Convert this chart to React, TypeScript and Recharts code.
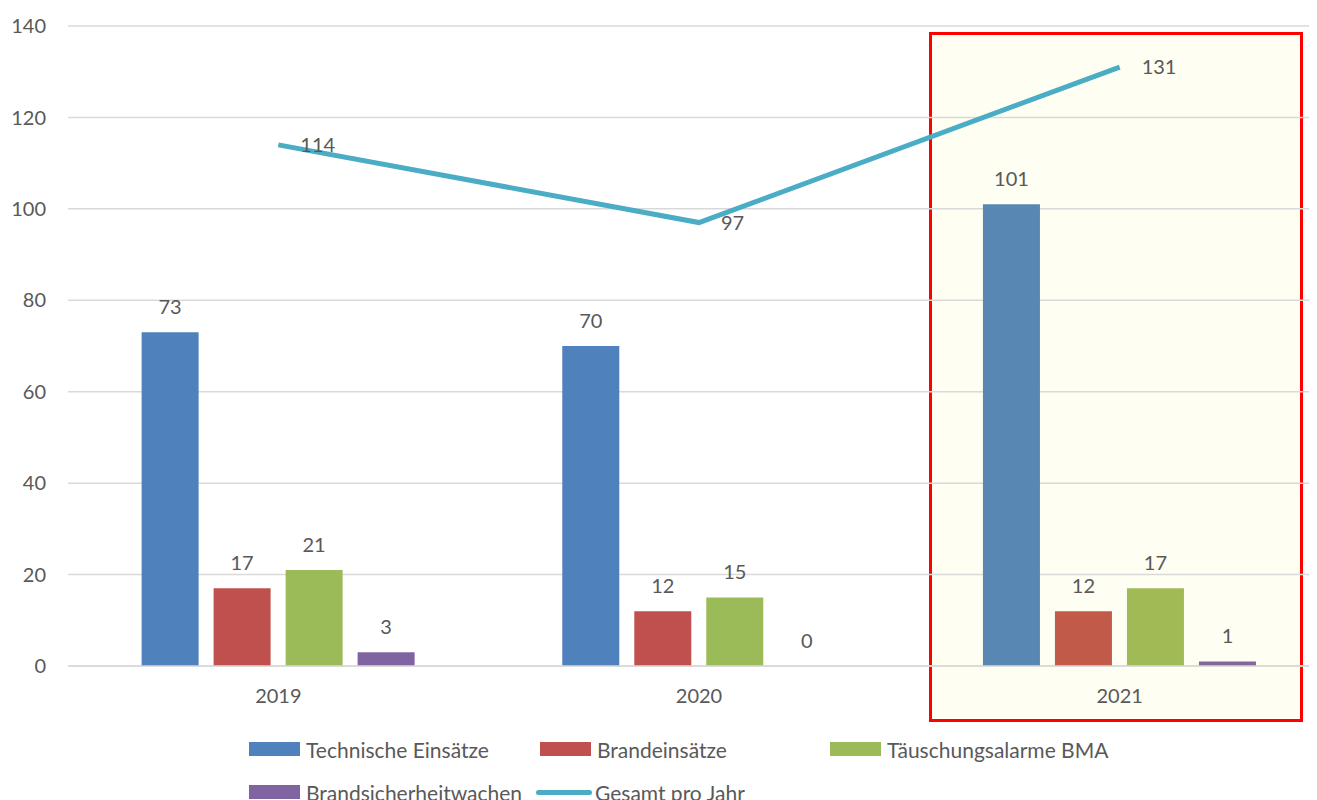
import {
  ComposedChart,
  Bar,
  Line,
  XAxis,
  YAxis,
  CartesianGrid,
  Legend,
  LabelList,
  Cell,
} from 'recharts';

const years = ['2019', '2020', '2021'];
const technische = [73, 70, 101];
const brand = [17, 12, 12];
const taeuschung = [21, 15, 17];
const wachen = [3, 0, 1];
const gesamt = [114, 97, 131];
const yTicks = [0, 20, 40, 60, 80, 100, 120, 140];

const seriesNames = {
  technische: 'Technische Einsätze',
  brand: 'Brandeinsätze',
  taeuschung: 'Täuschungsalarme BMA',
  wachen: 'Brandsicherheitwachen',
  gesamt: 'Gesamt pro Jahr',
};

// last year sits in the highlighted box, bars look a touch washed there
const technischeColors = ['#4f81bd', '#4f81bd', '#5887b3'];
const brandColors = ['#c0504d', '#c0504d', '#c25a4a'];
const taeuschungColors = ['#9bbb59', '#9bbb59', '#a0bb55'];
const wachenColors = ['#8064a2', '#8064a2', '#84659c'];

const data = years.map((year, i) => ({
  year,
  technische: technische[i],
  brand: brand[i],
  taeuschung: taeuschung[i],
  wachen: wachen[i],
  gesamt: gesamt[i],
}));

const FONT = 'Lato, "Open Sans", sans-serif';
const TEXT = '#595959';

const legendItems = [
  { key: 'technische', color: '#4f81bd', left: 249, top: 16, type: 'bar' },
  { key: 'brand', color: '#c0504d', left: 540, top: 16, type: 'bar' },
  { key: 'taeuschung', color: '#9bbb59', left: 830, top: 16, type: 'bar' },
  { key: 'wachen', color: '#8064a2', left: 249, top: 59, type: 'bar' },
  { key: 'gesamt', color: '#4bacc6', left: 536, top: 59, type: 'line' },
] as const;

const ChartLegend = () => (
  <div style={{ position: 'relative', width: 1317, height: 104, fontFamily: FONT, fontSize: 21, color: TEXT }}>
    {legendItems.map((item) => (
      <div
        key={item.key}
        style={{ position: 'absolute', left: item.left, top: item.top, display: 'flex', alignItems: 'center', height: 14, whiteSpace: 'nowrap' }}
      >
        {item.type === 'bar' ? (
          <span style={{ display: 'inline-block', width: 51, height: 14, background: item.color, marginRight: 6 }} />
        ) : (
          <span style={{ display: 'inline-block', width: 56, height: 5, borderRadius: 3, background: item.color, marginRight: 3 }} />
        )}
        <span>{seriesNames[item.key]}</span>
      </div>
    ))}
  </div>
);

// bar value label, drawn even for a zero-height bar
const BarValue = (props: any) => {
  const { x, y, width, value } = props;
  return (
    <text x={x + width / 2} y={y - 18} textAnchor="middle" fill={TEXT} fontSize={20} fontFamily={FONT}>
      {value}
    </text>
  );
};

export default function App() {
  return (
    <div style={{ margin: '-8px -8px 0 -8px', width: 1317, height: 800, overflow: 'hidden', position: 'relative', background: '#fff' }}>
      <div
        style={{
          position: 'absolute',
          left: 929,
          top: 32,
          width: 374,
          height: 690,
          boxSizing: 'border-box',
          border: '3.5px solid #ff0000',
          background: '#fefef2',
        }}
      />
      <div style={{ position: 'absolute', left: 0, top: 0 }}>
        <ComposedChart
          width={1330}
          height={800}
          data={data}
          margin={{ top: 26, right: 0, bottom: 0, left: 0 }}
          barCategoryGap="17.5%"
          barGap={15}
          style={{ fontFamily: FONT }}
        >
          <CartesianGrid vertical={false} stroke="#d9d9d9" strokeWidth={1.5} />
          <XAxis
            dataKey="year"
            height={30}
            tickLine={false}
            axisLine={{ stroke: '#d9d9d9', strokeWidth: 1.5 }}
            tickMargin={17}
            tick={{ fill: TEXT, fontSize: 20 }}
          />
          <YAxis
            width={68}
            domain={[0, 140]}
            ticks={yTicks}
            tickLine={false}
            axisLine={false}
            tickMargin={16}
            tick={{ fill: TEXT, fontSize: 20 }}
          />
          <Legend
            verticalAlign="bottom"
            content={() => <ChartLegend />}
            wrapperStyle={{ top: 726, left: 0, bottom: 'auto', width: 1317 }}
          />
          <Bar dataKey="technische" name={seriesNames.technische} isAnimationActive={false}>
            {data.map((d, i) => (
              <Cell key={d.year} fill={technischeColors[i]} />
            ))}
            <LabelList dataKey="technische" content={BarValue} />
          </Bar>
          <Bar dataKey="brand" name={seriesNames.brand} isAnimationActive={false}>
            {data.map((d, i) => (
              <Cell key={d.year} fill={brandColors[i]} />
            ))}
            <LabelList dataKey="brand" content={BarValue} />
          </Bar>
          <Bar dataKey="taeuschung" name={seriesNames.taeuschung} isAnimationActive={false}>
            {data.map((d, i) => (
              <Cell key={d.year} fill={taeuschungColors[i]} />
            ))}
            <LabelList dataKey="taeuschung" content={BarValue} />
          </Bar>
          <Bar dataKey="wachen" name={seriesNames.wachen} minPointSize={0.01} isAnimationActive={false}>
            {data.map((d, i) => (
              <Cell key={d.year} fill={wachenColors[i]} />
            ))}
            <LabelList dataKey="wachen" content={BarValue} />
          </Bar>
          <Line
            dataKey="gesamt"
            name={seriesNames.gesamt}
            stroke="#4bacc6"
            strokeWidth={5}
            dot={false}
            activeDot={false}
            isAnimationActive={false}
          >
            <LabelList dataKey="gesamt" position="right" offset={22} fill={TEXT} fontSize={20} />
          </Line>
        </ComposedChart>
      </div>
    </div>
  );
}
